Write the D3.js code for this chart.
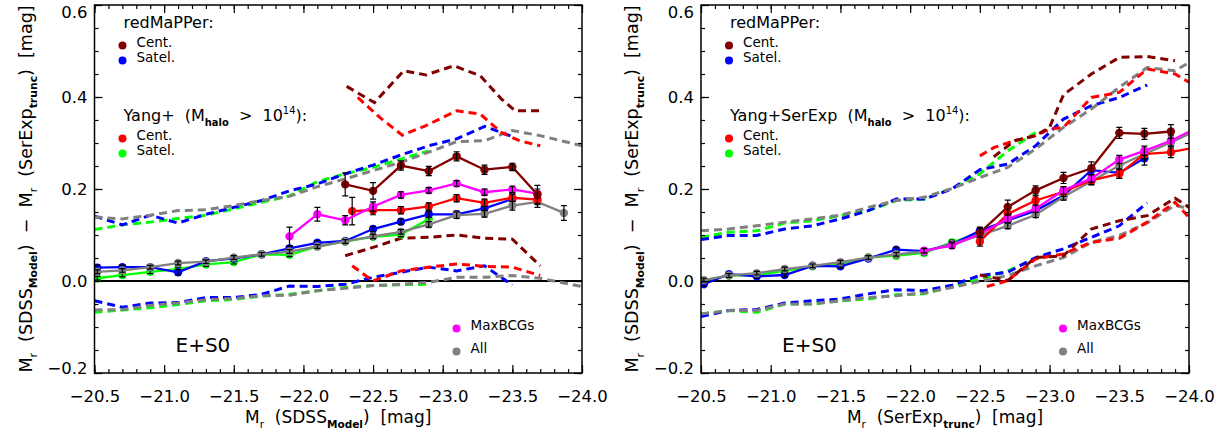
<!DOCTYPE html>
<html>
<head>
<meta charset="utf-8">
<script src="https://cdn.jsdelivr.net/npm/d3@7"></script>
<style>
  body { margin: 0; background: #fff; }
  svg text { font-family: "DejaVu Sans", sans-serif; white-space: pre; fill: #000; }
</style>
</head>
<body>
<svg id="chart" width="1222" height="436"></svg>
<script>
// magnitude bins (points) and the grid the percentile curves are read on
const xBins = [-20.52,-20.7,-20.9,-21.1,-21.3,-21.5,-21.7,-21.9,-22.1,-22.3,-22.5,-22.7,-22.9,-23.1,-23.3,-23.5,-23.68,-23.87,-24.07]
const xGridL = [-20.5,-20.7,-20.9,-21.1,-21.3,-21.5,-21.7,-21.9,-22.1,-22.3,-22.5,-22.7,-22.9,-23.1,-23.3,-23.5,-23.7,-24.0]
const xGridR = [-20.5,-20.7,-20.9,-21.1,-21.3,-21.5,-21.7,-21.9,-22.1,-22.3,-22.5,-22.7,-22.9,-23.1,-23.3,-23.5,-23.7,-23.9,-24.0]

const xMajorTicks = [-20.5,-21.0,-21.5,-22.0,-22.5,-23.0,-23.5,-24.0]
const yMajorTicks = [-0.2,0.0,0.2,0.4,0.6]

// ---- left panel: x = Mr(SDSS Model) ----
const L_satRM    = [0.029,0.030,0.030,0.019,0.043,0.049,0.058,0.071,0.083,0.087,0.113,0.129,0.145,0.145,0.158,0.178]
const L_satRMerr = [0.006,0.005,0.005,0.006,0.005,0.005,0.005,0.005,0.005,0.005,0.006,0.006,0.007,0.007,0.008,0.012]
const L_satYang    = [0.006,0.013,0.020,0.026,0.036,0.041,0.058,0.057,0.075,0.086,0.096,0.101,0.135]
const L_satYangErr = [0.004,0.004,0.004,0.004,0.004,0.004,0.004,0.004,0.004,0.004,0.005,0.005,0.006]
const L_all    = [0.020,0.023,0.030,0.039,0.042,0.051,0.058,0.064,0.075,0.086,0.097,0.107,0.123,0.143,0.146,0.164,0.172,0.148]
const L_allErr = [0.004,0.004,0.004,0.004,0.004,0.004,0.004,0.004,0.004,0.004,0.005,0.005,0.006,0.007,0.007,0.010,0.012,0.016]
const L_maxX   = [-21.9,-22.1,-22.3,-22.5,-22.7,-22.9,-23.1,-23.3,-23.5,-23.68]
const L_max    = [0.097,0.145,0.132,0.162,0.187,0.197,0.212,0.193,0.199,0.190]
const L_maxErr = [0.020,0.015,0.010,0.010,0.007,0.006,0.006,0.007,0.007,0.010]
const L_centYangX   = [-22.35,-22.5,-22.7,-22.9,-23.1,-23.3,-23.5,-23.68]
const L_centYang    = [0.152,0.154,0.154,0.162,0.180,0.170,0.181,0.177]
const L_centYangErr = [0.030,0.010,0.008,0.008,0.008,0.008,0.008,0.010]
const L_centRMX   = [-22.3,-22.5,-22.7,-22.9,-23.1,-23.3,-23.5,-23.68]
const L_centRM    = [0.210,0.196,0.251,0.239,0.271,0.242,0.248,0.188]
const L_centRMerr = [0.025,0.018,0.010,0.010,0.010,0.010,0.008,0.020]

const L_satRMhi   = [0.141,0.122,0.143,0.126,0.145,0.160,0.175,0.196,0.211,0.233,0.252,0.274,0.294,0.309,0.336,0.314]
const L_satRMlo   = [-0.043,-0.057,-0.048,-0.047,-0.036,-0.036,-0.029,-0.011,-0.012,-0.007,0.008,0.019,0.030,0.022,0.033,-0.009]
const L_satYangHi = [0.112,0.122,0.128,0.136,0.143,0.157,0.171,0.185,0.216,0.233,0.247,0.265,0.283]
const L_satYangLo = [-0.068,-0.063,-0.058,-0.051,-0.043,-0.040,-0.033,-0.029,-0.021,-0.014,-0.010,-0.008,-0.007]
const L_allHi     = [0.139,0.135,0.143,0.153,0.155,0.164,0.175,0.184,0.205,0.222,0.240,0.258,0.280,0.303,0.305,0.327,0.316,0.294]
const L_allLo     = [-0.063,-0.062,-0.053,-0.048,-0.041,-0.038,-0.032,-0.031,-0.021,-0.016,-0.010,-0.007,-0.003,0.008,0.008,0.012,0.006,-0.012]
const L_centRMhiX = [-22.31,-22.51,-22.72,-22.88,-23.08,-23.27,-23.42,-23.52,-23.7]
const L_centRMhi  = [0.423,0.388,0.457,0.448,0.468,0.446,0.396,0.370,0.370]
const L_centRMloX = [-22.3,-22.5,-22.7,-22.9,-23.1,-23.3,-23.5,-23.7]
const L_centRMlo  = [0.055,0.073,0.093,0.095,0.100,0.093,0.091,0.033]
const L_centYangHiX = [-22.39,-22.55,-22.71,-22.88,-23.1,-23.27,-23.42,-23.55,-23.7]
const L_centYangHi  = [0.399,0.355,0.317,0.338,0.370,0.363,0.323,0.305,0.294]
const L_centYangLoX = [-22.35,-22.5,-22.7,-22.9,-23.1,-23.3,-23.5,-23.7]
const L_centYangLo  = [0.033,0.000,0.022,0.030,0.037,0.032,0.030,0.012]

// ---- right panel: x = Mr(SerExp trunc) ----
const R_satRM    = [-0.007,0.015,0.010,0.013,0.033,0.032,0.049,0.068,0.065,0.080,0.109,0.132,0.153,0.186,0.241,0.235,0.267]
const R_satRMerr = [0.005,0.004,0.004,0.004,0.004,0.004,0.004,0.005,0.005,0.005,0.008,0.008,0.008,0.009,0.010,0.012,0.015]
const R_satYang    = [0.001,0.012,0.013,0.022,0.032,0.037,0.051,0.055,0.061,0.084,0.104,0.133,0.153]
const R_satYangErr = [0.004,0.004,0.004,0.004,0.004,0.004,0.004,0.004,0.004,0.005,0.006,0.006,0.007]
const R_all    = [0.002,0.012,0.017,0.026,0.033,0.041,0.051,0.058,0.064,0.080,0.099,0.120,0.144,0.183,0.217,0.251,0.276,0.301,0.330]
const R_allErr = [0.004,0.004,0.004,0.004,0.004,0.004,0.004,0.004,0.004,0.005,0.005,0.006,0.006,0.007,0.007,0.008,0.010,0.012,0.012]
const R_max    = [0.066,0.077,0.102,0.135,0.157,0.197,0.223,0.264,0.283,0.305,0.335]
const R_maxErr = [0.005,0.006,0.007,0.008,0.008,0.008,0.008,0.009,0.010,0.012,0.012]
const R_centYang    = [0.086,0.146,0.175,0.194,0.219,0.233,0.276,0.280,0.292]
const R_centYangErr = [0.010,0.010,0.010,0.010,0.010,0.010,0.010,0.012,0.012]
const R_centRM    = [0.105,0.161,0.197,0.224,0.245,0.322,0.320,0.325]
const R_centRMerr = [0.010,0.015,0.010,0.012,0.014,0.012,0.012,0.015]

const R_satRMhi   = [0.090,0.099,0.099,0.113,0.120,0.135,0.153,0.178,0.178,0.200,0.242,0.254,0.294,0.352,0.381,0.399,0.426]
const R_satRMlo   = [-0.077,-0.064,-0.062,-0.048,-0.043,-0.039,-0.028,-0.019,-0.021,-0.009,0.012,0.019,0.051,0.070,0.095,0.120,0.170]
const R_satYangHi = [0.095,0.106,0.109,0.126,0.131,0.142,0.153,0.175,0.178,0.201,0.233,0.283,0.323]
const R_satYangLo = [-0.072,-0.064,-0.068,-0.050,-0.050,-0.043,-0.039,-0.030,-0.028,-0.012,0.004,0.022,0.048]
const R_allHi     = [0.109,0.113,0.120,0.128,0.135,0.143,0.160,0.175,0.182,0.201,0.225,0.247,0.287,0.334,0.374,0.421,0.464,0.457,0.475]
const R_allLo     = [-0.072,-0.064,-0.064,-0.050,-0.050,-0.043,-0.036,-0.032,-0.026,-0.014,-0.001,0.012,0.033,0.051,0.084,0.099,0.126,0.165,0.157]
const R_centRMhiX = [-22.6,-22.75,-22.9,-23.0,-23.1,-23.3,-23.5,-23.7,-23.9]
const R_centRMhi  = [0.270,0.305,0.316,0.334,0.405,0.450,0.486,0.488,0.479]
const R_centRMloX = [-22.5,-22.7,-22.9,-23.1,-23.3,-23.5,-23.7,-23.9,-24.0]
const R_centRMlo  = [0.013,0.001,0.051,0.055,0.113,0.131,0.142,0.180,0.160]
const R_centYangHiX = [-22.5,-22.6,-22.75,-22.9,-23.0,-23.1,-23.3,-23.5,-23.7,-23.9,-24.0]
const R_centYangHi  = [0.272,0.290,0.305,0.316,0.330,0.334,0.399,0.410,0.461,0.450,0.432]
const R_centYangLoX = [-22.55,-22.7,-22.9,-23.1,-23.3,-23.5,-23.7,-23.9,-24.0]
const R_centYangLo  = [-0.012,0.001,0.048,0.059,0.084,0.093,0.128,0.171,0.138]

const cBrown = '#800000', cBlue = '#0000ff', cRed = '#ff0000'
const cGreen = '#00ff00', cMag = '#ff00ff', cGray = '#808080'

const svg = d3.select('#chart')
const yTop = 5, yBot = 373
const y = d3.scaleLinear().domain([-0.2, 0.6]).range([yBot, yTop])

// starting at bin i
function fromBin(i, ys) { return xBins.slice(i, i + ys.length) }

// text with sub/superscripts; 'subb' = bold subscript
function rich(sel, parts, size) {
    let shift = 0
    parts.forEach(p => {
        const kind = p[1]
        const isSub = kind === 'sub' || kind === 'subb'
        const target = isSub ? size * 0.32 : kind === 'sup' ? -size * 0.42 : 0
        const t = sel.append('tspan').text(p[0])
        if (target - shift !== 0) t.attr('dy', target - shift)
        if (kind) t.attr('font-size', size * 0.62)
        if (kind === 'subb') t.attr('font-weight', 'bold')
        shift = target
    })
    return sel
}

function drawPanel(p) {
    const x = d3.scaleLinear().domain([-20.5, -24.0]).range([p.x0, p.x1])
    const g = svg.append('g')

    svg.append('clipPath').attr('id', 'clip' + p.id)
        .append('rect')
        .attr('x', p.x0).attr('y', yTop)
        .attr('width', p.x1 - p.x0).attr('height', yBot - yTop)
    const plot = g.append('g').attr('clip-path', 'url(#clip' + p.id + ')')

    plot.append('line')
        .attr('x1', p.x0).attr('x2', p.x1)
        .attr('y1', y(0)).attr('y2', y(0))
        .attr('stroke', '#000').attr('stroke-width', 2)

    const line = d3.line().x(d => x(d[0])).y(d => y(d[1]))
    p.dashed.forEach(s => {
        plot.append('path')
            .datum(d3.zip(s.x, s.y))
            .attr('d', line)
            .attr('fill', 'none')
            .attr('stroke', s.color)
            .attr('stroke-width', 3)
            .attr('stroke-dasharray', '8,5')
    })

    p.solid.forEach(s => {
        const pts = s.x.map((xv, i) => ({ x: xv, y: s.y[i], e: s.e[i] }))
        plot.append('path')
            .datum(pts)
            .attr('d', d3.line().x(d => x(d.x)).y(d => y(d.y)))
            .attr('fill', 'none')
            .attr('stroke', s.color)
            .attr('stroke-width', 2.3)
        const gg = plot.append('g')
        gg.selectAll('circle').data(pts).join('circle')
            .attr('cx', d => x(d.x)).attr('cy', d => y(d.y))
            .attr('r', 4.2)
            .attr('fill', s.color)
        gg.selectAll('path').data(pts).join('path')
            .attr('d', d => {
                const cx = x(d.x), a = y(d.y + d.e), b = y(d.y - d.e)
                return 'M' + cx + ',' + a + 'V' + b + 'M' + (cx - 3) + ',' + a + 'H' + (cx + 3) + 'M' + (cx - 3) + ',' + b + 'H' + (cx + 3)
            })
            .attr('stroke', '#000').attr('stroke-width', 1.2).attr('fill', 'none')
    })

    // ticks on all four sides, pointing in
    const xMinor = d3.range(0, 36).map(i => -20.5 - i * 0.1)
    const yMinor = d3.range(0, 17).map(i => -0.2 + i * 0.05)
    const fmt = d3.format('.1f')

    const axes = [
        g.append('g').attr('transform', 'translate(0,' + yBot + ')')
            .call(d3.axisBottom(x).tickValues(xMinor).tickSizeInner(-4).tickSizeOuter(0).tickFormat('')),
        g.append('g').attr('transform', 'translate(0,' + yTop + ')')
            .call(d3.axisTop(x).tickValues(xMinor).tickSizeInner(-4).tickSizeOuter(0).tickFormat('')),
        g.append('g').attr('transform', 'translate(0,' + yTop + ')')
            .call(d3.axisTop(x).tickValues(xMajorTicks).tickSizeInner(-8).tickSizeOuter(0).tickFormat('')),
        g.append('g').attr('transform', 'translate(' + p.x0 + ',0)')
            .call(d3.axisLeft(y).tickValues(yMinor).tickSizeInner(-4).tickSizeOuter(0).tickFormat('')),
        g.append('g').attr('transform', 'translate(' + p.x1 + ',0)')
            .call(d3.axisRight(y).tickValues(yMinor).tickSizeInner(-4).tickSizeOuter(0).tickFormat('')),
        g.append('g').attr('transform', 'translate(' + p.x1 + ',0)')
            .call(d3.axisRight(y).tickValues(yMajorTicks).tickSizeInner(-8).tickSizeOuter(0).tickFormat(''))
    ]
    const xAx = g.append('g').attr('transform', 'translate(0,' + yBot + ')')
        .call(d3.axisBottom(x).tickValues(xMajorTicks).tickSizeInner(-8).tickSizeOuter(0).tickPadding(17).tickFormat(fmt))
    const yAx = g.append('g').attr('transform', 'translate(' + p.x0 + ',0)')
        .call(d3.axisLeft(y).tickValues(yMajorTicks).tickSizeInner(-8).tickSizeOuter(0).tickPadding(7).tickFormat(fmt))
    axes.concat([xAx, yAx]).forEach(a => {
        a.attr('font-size', null).attr('font-family', null)
        a.select('.domain').remove()
        a.selectAll('line').attr('stroke', '#000').attr('stroke-width', 1.2)
    })
    xAx.selectAll('text').attr('font-size', 16.5).attr('fill', '#000')
    yAx.selectAll('text').attr('font-size', 16.5).attr('fill', '#000')
        .attr('dy', d => d === 0.6 ? '0.75em' : d === -0.2 ? '0.05em' : '0.35em')

    g.append('rect')
        .attr('x', p.x0).attr('y', yTop)
        .attr('width', p.x1 - p.x0).attr('height', yBot - yTop)
        .attr('fill', 'none').attr('stroke', '#000').attr('stroke-width', 1.5)

    // legend
    const lx = p.x0 + 28
    g.append('text').attr('x', lx + 1).attr('y', 28).attr('font-size', 16).text('redMaPPer:')
    const items = [
        [cBrown, 'Cent.', 47, lx], [cBlue, 'Satel.', 62, lx],
        [cRed, 'Cent.', 140, lx], [cGreen, 'Satel.', 155, lx],
        [cMag, 'MaxBCGs', 330, p.x0 + 362], [cGray, 'All', 353, p.x0 + 362]
    ]
    items.forEach(it => {
        g.append('circle').attr('cx', it[3]).attr('cy', it[2] - 1.5).attr('r', 4).attr('fill', it[0])
        g.append('text').attr('x', it[3] + 14).attr('y', it[2]).attr('font-size', 13.5).text(it[1])
    })
    rich(g.append('text').attr('x', lx + 1).attr('y', 121).attr('font-size', 16),
        [[p.yangLabel + '  (M'], ['halo', 'subb'], ['  >  10'], ['14', 'sup'], ['):']], 16)
    g.append('text').attr('x', p.x0 + 81).attr('y', 352).attr('font-size', 20).text('E+S0')

    // axis titles
    rich(g.append('text').attr('x', (p.x0 + p.x1) / 2).attr('y', 423)
        .attr('text-anchor', 'middle').attr('font-size', 17),
        [['M'], ['r', 'sub'], ['  (' + p.xTitle[0]], [p.xTitle[1], 'subb'], [')  [mag]']], 17)
    rich(g.append('text')
        .attr('transform', 'translate(' + (p.x0 - 63) + ',' + ((yTop + yBot) / 2) + ') rotate(-90)')
        .attr('text-anchor', 'middle').attr('font-size', 17.5),
        [['M'], ['r', 'sub'], ['  (SDSS'], ['Model', 'subb'], [')  \u2212  M'], ['r', 'sub'], ['  (SerExp'], ['trunc', 'subb'], [')  [mag]']], 17.5)
}

drawPanel({
    id: 'L', x0: 94.5, x1: 582,
    yangLabel: 'Yang+',
    xTitle: ['SDSS', 'Model'],
    dashed: [
        { x: xGridL.slice(0, 13), y: L_satYangHi, color: cGreen },
        { x: xGridL.slice(0, 13), y: L_satYangLo, color: cGreen },
        { x: xGridL.slice(0, 16), y: L_satRMhi, color: cBlue },
        { x: xGridL.slice(0, 16), y: L_satRMlo, color: cBlue },
        { x: xGridL, y: L_allHi, color: cGray },
        { x: xGridL, y: L_allLo, color: cGray },
        { x: L_centYangHiX, y: L_centYangHi, color: cRed },
        { x: L_centYangLoX, y: L_centYangLo, color: cRed },
        { x: L_centRMhiX, y: L_centRMhi, color: cBrown },
        { x: L_centRMloX, y: L_centRMlo, color: cBrown }
    ],
    solid: [
        { x: fromBin(0, L_satYang), y: L_satYang, e: L_satYangErr, color: cGreen },
        { x: fromBin(0, L_satRM), y: L_satRM, e: L_satRMerr, color: cBlue },
        { x: fromBin(0, L_all), y: L_all, e: L_allErr, color: cGray },
        { x: L_centYangX, y: L_centYang, e: L_centYangErr, color: cRed },
        { x: L_maxX, y: L_max, e: L_maxErr, color: cMag },
        { x: L_centRMX, y: L_centRM, e: L_centRMerr, color: cBrown }
    ]
})

drawPanel({
    id: 'R', x0: 701, x1: 1189,
    yangLabel: 'Yang+SerExp',
    xTitle: ['SerExp', 'trunc'],
    dashed: [
        { x: xGridR.slice(0, 13), y: R_satYangHi, color: cGreen },
        { x: xGridR.slice(0, 13), y: R_satYangLo, color: cGreen },
        { x: xGridR.slice(0, 17), y: R_satRMhi, color: cBlue },
        { x: xGridR.slice(0, 17), y: R_satRMlo, color: cBlue },
        { x: xGridR, y: R_allHi, color: cGray },
        { x: xGridR, y: R_allLo, color: cGray },
        { x: R_centYangHiX, y: R_centYangHi, color: cRed },
        { x: R_centYangLoX, y: R_centYangLo, color: cRed },
        { x: R_centRMhiX, y: R_centRMhi, color: cBrown },
        { x: R_centRMloX, y: R_centRMlo, color: cBrown }
    ],
    solid: [
        { x: fromBin(0, R_satYang), y: R_satYang, e: R_satYangErr, color: cGreen },
        { x: fromBin(0, R_satRM), y: R_satRM, e: R_satRMerr, color: cBlue },
        { x: fromBin(0, R_all), y: R_all, e: R_allErr, color: cGray },
        { x: fromBin(10, R_centYang), y: R_centYang, e: R_centYangErr, color: cRed },
        { x: fromBin(8, R_max), y: R_max, e: R_maxErr, color: cMag },
        { x: fromBin(10, R_centRM), y: R_centRM, e: R_centRMerr, color: cBrown }
    ]
})
</script>
</body>
</html>
